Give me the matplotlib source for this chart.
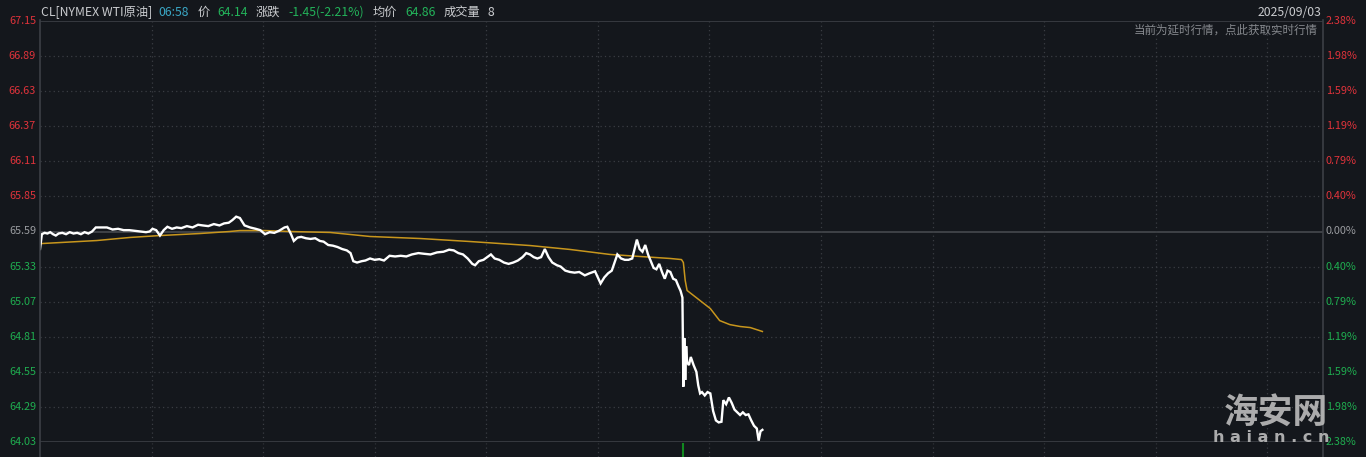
import matplotlib
matplotlib.use("Agg")
import matplotlib.pyplot as plt
import matplotlib.transforms as mtrans
import numpy as np

plt.rcParams['font.family'] = ['Noto Sans CJK SC', 'DejaVu Sans']

# ---------------- data ----------------
# minutes since session open (session = 23 h = 1380 min)
price_min = [0, 2, 5, 8, 11, 14, 17, 20, 24, 28, 32, 36, 40, 44, 48, 52, 56, 60, 66, 72,
             78, 84, 90, 96, 102, 108, 114, 118, 121, 125, 129, 133, 137, 142, 147, 152, 158, 164, 170, 175,
             181, 187, 193, 198, 203, 207, 211, 215, 220, 226, 232, 237, 242, 247, 252, 257, 263, 266, 270, 273,
             277, 281, 286, 291, 296, 301, 305, 310, 315, 320, 325, 330, 334, 337, 341, 346, 350, 355, 360, 365,
             370, 376, 382, 388, 394, 400, 407, 413, 420, 427, 434, 440, 445, 450, 455, 460, 465, 468, 472, 477,
             481, 485, 489, 494, 499, 504, 509, 514, 519, 523, 527, 531, 535, 539, 543, 547, 551, 556, 560, 565,
             570, 575, 580, 586, 591, 597, 600, 603, 607, 611, 615, 618, 621, 625, 629, 633, 637, 642, 645, 648,
             651, 654, 657, 660, 663, 666, 669, 672, 675, 678, 681, 684, 687, 689, 691, 692, 693, 694, 695, 696,
             698, 700, 703, 706, 708, 710, 712, 715, 718, 721, 724, 727, 730, 733, 735, 738, 741, 744, 747, 750,
             753, 756, 759, 762, 765, 768, 771, 773, 775, 777]
price_val = [65.46, 65.57, 65.58, 65.575, 65.585, 65.57, 65.56, 65.575, 65.58, 65.57, 65.585, 65.575, 65.58, 65.57, 65.585, 65.575, 65.59, 65.62, 65.62, 65.62,
             65.605, 65.61, 65.60, 65.60, 65.595, 65.59, 65.585, 65.59, 65.61, 65.60, 65.56, 65.60, 65.625, 65.61, 65.62, 65.615, 65.63, 65.62, 65.64, 65.635,
             65.63, 65.645, 65.635, 65.65, 65.655, 65.675, 65.70, 65.69, 65.635, 65.62, 65.61, 65.60, 65.57, 65.585, 65.58, 65.595, 65.62, 65.625, 65.57, 65.52,
             65.545, 65.55, 65.54, 65.535, 65.54, 65.52, 65.515, 65.49, 65.485, 65.475, 65.46, 65.45, 65.43, 65.37, 65.36, 65.37, 65.375, 65.39, 65.38, 65.385,
             65.375, 65.41, 65.405, 65.41, 65.405, 65.42, 65.43, 65.425, 65.42, 65.435, 65.44, 65.455, 65.45, 65.43, 65.42, 65.39, 65.35, 65.34, 65.37, 65.38,
             65.40, 65.42, 65.39, 65.38, 65.36, 65.35, 65.36, 65.375, 65.40, 65.43, 65.42, 65.40, 65.39, 65.40, 65.46, 65.40, 65.36, 65.34, 65.33, 65.30,
             65.29, 65.285, 65.29, 65.265, 65.28, 65.295, 65.25, 65.205, 65.25, 65.28, 65.30, 65.36, 65.42, 65.39, 65.38, 65.38, 65.39, 65.53, 65.46, 65.44,
             65.49, 65.42, 65.37, 65.32, 65.31, 65.35, 65.29, 65.24, 65.30, 65.29, 65.24, 65.23, 65.18, 65.15, 65.10, 64.44, 64.80, 64.49, 64.74, 64.62,
             64.60, 64.66, 64.60, 64.55, 64.45, 64.39, 64.40, 64.375, 64.40, 64.39, 64.26, 64.19, 64.175, 64.18, 64.34, 64.31, 64.36, 64.32, 64.27, 64.25,
             64.23, 64.25, 64.23, 64.235, 64.19, 64.15, 64.13, 64.04, 64.11, 64.12]

avg_min = [0, 61, 97, 129, 172, 204, 215, 242, 269, 312, 355, 409, 462, 527, 570, 613, 645, 678, 690, 692,
           694, 696, 710, 721, 731, 742, 753, 764, 777]
avg_val = [65.50, 65.523, 65.546, 65.560, 65.575, 65.590, 65.597, 65.597, 65.590, 65.583, 65.553, 65.538, 65.516, 65.486, 65.457, 65.420, 65.405, 65.390, 65.382, 65.36,
           65.227, 65.153, 65.078, 65.019, 64.93, 64.90, 64.886, 64.878, 64.849]

vol_min = [692]
vol_val = [1]

prev_close = 65.59
y_ticks = [67.15, 66.89, 66.63, 66.37, 66.11, 65.85, 65.59, 65.33, 65.07, 64.81, 64.55, 64.29, 64.03]
pct_labels = ["2.38%", "1.98%", "1.59%", "1.19%", "0.79%", "0.40%", "0.00%",
              "0.40%", "0.79%", "1.19%", "1.59%", "1.98%", "2.38%"]
session_minutes = 1380
grid_minutes = list(range(120, 1380, 120))

header = [("CL[NYMEX WTI原油]", "#c9cbce"), ("06:58", "#3aa6c4"), ("价", "#c9cbce"),
          ("64.14", "#23b35a"), ("涨跌", "#c9cbce"), ("-1.45(-2.21%)", "#23b35a"),
          ("均价", "#c9cbce"), ("64.86", "#23b35a"), ("成交量", "#c9cbce"), ("8", "#c9cbce")]
header_x = [41, 158, 198, 217, 256, 288, 373, 405, 444, 488]
date_text = "2025/09/03"
notice_text = "当前为延时行情，点此获取实时行情"

# ---------------- style ----------------
BG = "#14171c"
GRID = "#3a3d43"
SOLID = "#3c3f45"
RED = "#e0333b"
GREEN = "#1fae50"
GRAY = "#9a9ca0"

W, H = 1366, 457
fig = plt.figure(figsize=(W / 100, H / 100), dpi=100, facecolor=BG)

L, R, T, B = 40, 1323, 21, 442
ax = fig.add_axes([L / W, (H - B) / H, (R - L) / W, (B - T) / H], facecolor=BG)
ax.set_xlim(0, session_minutes)
ax.set_ylim(y_ticks[-1], y_ticks[0])
for s in ax.spines.values():
    s.set_visible(False)
ax.set_xticks([])
ax.set_yticks([])

for v in y_ticks:
    if v in (y_ticks[0], y_ticks[-1], prev_close):
        ax.axhline(v, color=SOLID if v != prev_close else "#46494e", lw=1.2, zorder=1)
    else:
        ax.axhline(v, color=GRID, lw=0.9, ls=(0, (1, 2.5)), zorder=1)
for m in grid_minutes:
    ax.axvline(m, color=GRID, lw=0.9, ls=(0, (1, 2.5)), zorder=1)

ax.plot(avg_min, avg_val, color="#c8961c", lw=1.1, zorder=3)
ax.plot(price_min, price_val, color="white", lw=1.7, zorder=4, solid_joinstyle="miter")

# axis labels (positioned with a pixel offset from the axes edges)
left_tr = ax.get_yaxis_transform() + mtrans.ScaledTranslation(-4 / 100, 0, fig.dpi_scale_trans)
right_tr = mtrans.blended_transform_factory(ax.transAxes, ax.transData) + \
    mtrans.ScaledTranslation(3 / 100, 0, fig.dpi_scale_trans)
for i, v in enumerate(y_ticks):
    if v > prev_close:
        c = RED
    elif v < prev_close:
        c = GREEN
    else:
        c = GRAY
    ax.text(0, v, f"{v:.2f}", color=c, fontsize=7.8, ha="right", va="center",
            transform=left_tr, clip_on=False)
    ax.text(1, v, pct_labels[i], color=c, fontsize=7.8, ha="left", va="center",
            transform=right_tr, clip_on=False)

# vertical frame lines extending full figure
fig.add_artist(plt.Line2D([L / W, L / W], [0, (H - T + 1) / H], color=SOLID, lw=1.2))
fig.add_artist(plt.Line2D([R / W, R / W], [0, (H - T + 1) / H], color=SOLID, lw=1.2))

# volume strip
vax = fig.add_axes([L / W, 0, (R - L) / W, (H - B - 1) / H], facecolor=BG)
vax.set_xlim(0, session_minutes)
vax.set_ylim(0, 1)
vax.axis("off")
for m in grid_minutes:
    vax.axvline(m, color=GRID, lw=0.9, ls=(0, (1, 2.5)))
vax.vlines(vol_min, 0, vol_val, color="#11891f", lw=1.5)

# header
for (t, c), x in zip(header, header_x):
    fig.text(x / W, 1 - 12 / H, t, color=c, fontsize=8.8, ha="left", va="center")
fig.text(1321 / W, 1 - 12 / H, date_text, color="#c9cbce", fontsize=8.8, ha="right", va="center")
fig.text(1318 / W, 1 - 30 / H, notice_text, color="#86898e", fontsize=8.3, ha="right", va="center")

# watermark
fig.text(1276 / W, 1 - 412 / H, "海安网", color="#b9b9b9", fontsize=25, fontweight="bold",
         ha="center", va="center", alpha=0.92)
fig.text(1271 / W, 1 - 437 / H, "h a i a n . c n", color="#b9b9b9", fontsize=11.5, fontweight="bold",
         ha="center", va="center", alpha=0.92, family="DejaVu Sans")

fig.savefig("out.png", dpi=100, facecolor=BG)
